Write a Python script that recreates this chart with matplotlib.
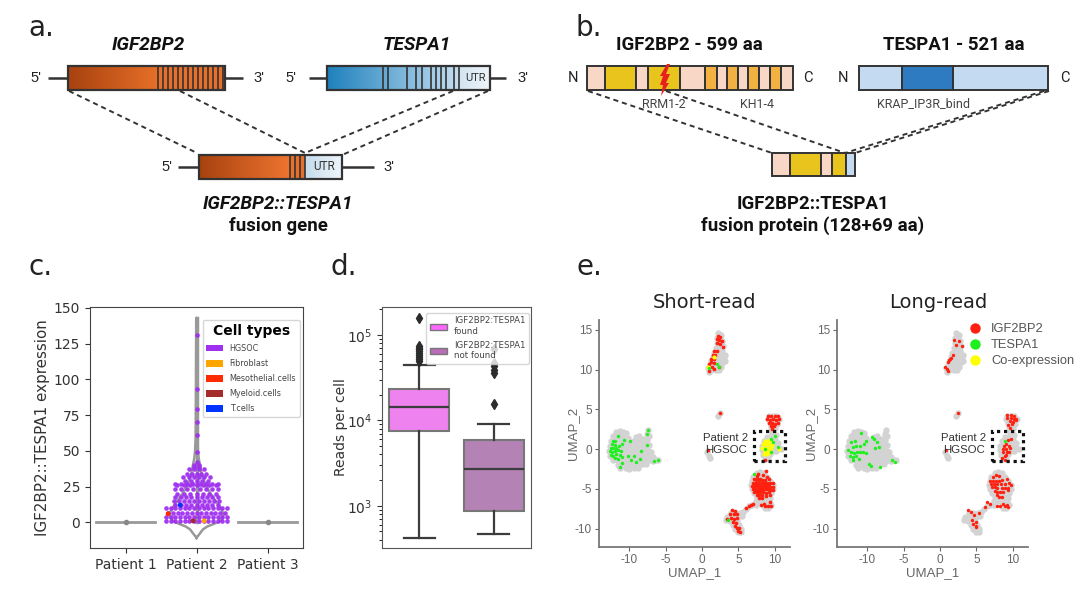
import numpy as np
import matplotlib
matplotlib.use("Agg")
import matplotlib.pyplot as plt
from matplotlib.colors import LinearSegmentedColormap
from matplotlib.lines import Line2D
from matplotlib.patches import Patch, Rectangle, Polygon

plt.rcParams["axes.unicode_minus"] = False
W, H = 1080, 592

# panel c: swarm rows (expression value, number of cells) for Patient 2
swarm_levels = [1, 3.7, 6.8, 10, 12, 15, 18, 20, 23, 26, 27, 29, 32, 34, 37, 38.5, 40, 42, 49, 61, 70, 79, 93, 131]
swarm_counts = [14, 14, 13, 14, 9, 10, 9, 7, 8, 7, 8, 5, 6, 5, 4, 2, 2, 1, 1, 1, 1, 1, 1, 1]
swarm_steps = [.066, .066, .066, .066, .075, .07, .075, .09, .085, .09, .085, .08, .075, .07, .07, .07, .07, .07, .07, .07, .07, .07, .07, .07]
# other cell types in the swarm: value, x offset from the Patient 2 centre
other_values = [1, 1, 6, 12]
other_offsets = [-.05, .11, -.40, -.23]
other_types = ["Myeloid.cells", "Fibroblast", "Mesothelial.cells", "T.cells"]

violin_y = [-11, -10, -9, -7, -5, -3, 0, 3, 6, 10, 15, 20, 25, 30, 35, 40, 45, 50, 60, 80, 100, 143]
violin_w = [0, .012, .03, .06, .09, .15, .3, .37, .38, .34, .27, .2, .14, .1, .07, .05, .03, .02, .012, .01, .008, .004]

patients = ["Patient 1", "Patient 2", "Patient 3"]
cell_types = ["HGSOC", "Fibroblast", "Mesothelial.cells", "Myeloid.cells", "T.cells"]
cell_colors = ["#A030F0", "#FFA500", "#FF2A00", "#A52A2A", "#0033FF"]

# panel d: box stats
box_found = dict(med=14200, q1=7440, q3=23400, whislo=420, whishi=45000,
                 fliers=[50000, 53000, 56000, 59000, 62000, 65000, 68000, 71000, 75000, 160000])
box_notfound = dict(med=2700, q1=870, q3=5900, whislo=473, whishi=9000,
                    fliers=[15500, 36000, 39000, 43000, 47000, 68000])

# panel e: UMAP embedding (same cells in both panels)
gray_left = [
    (-11.8, 2.2), (-11.3, 2.3), (-10.9, 2.2), (-10.5, 2.1), (-7.4, 2.4), (-7.6, 1.9), (-7.3, 1.7),
    (-12.2, 1.6), (-11.7, 1.7), (-11.2, 1.6), (-10.7, 1.6), (-10.2, 1.4), (-9.0, 1.5), (-8.6, 1.6), (-8.1, 1.3),
    (-12.5, 1.0), (-12.0, 1.1), (-11.5, 1.0), (-11.0, 1.0), (-10.5, .9), (-10.0, .9), (-9.5, 1.0), (-9.0, .9),
    (-8.5, 1.0), (-8.0, .8), (-7.5, 1.1), (-12.7, .4), (-12.2, .5), (-11.7, .4), (-11.2, .4), (-10.7, .3),
    (-10.2, .4), (-9.7, .3), (-9.2, .4), (-8.7, .3), (-8.2, .3), (-7.7, .4), (-7.3, .5), (-12.8, -.2),
    (-12.3, -.1), (-11.8, -.2), (-11.3, -.2), (-10.8, -.3), (-10.3, -.2), (-9.8, -.3), (-9.3, -.2), (-8.8, -.2),
    (-8.3, -.3), (-7.8, -.2), (-7.3, -.2), (-7.0, -.3), (-12.6, -.8), (-12.1, -.7), (-11.6, -.8), (-11.1, -.8),
    (-10.6, -.9), (-10.1, -.8), (-9.6, -.8), (-9.1, -.9), (-8.6, -.8), (-8.1, -.8), (-7.6, -.9), (-7.1, -.8),
    (-6.7, -1.0), (-12.2, -1.4), (-11.7, -1.3), (-11.2, -1.4), (-10.7, -1.4), (-10.2, -1.4), (-9.7, -1.5),
    (-9.2, -1.4), (-8.7, -1.4), (-8.2, -1.4), (-7.7, -1.5), (-7.2, -1.4), (-6.7, -1.5), (-6.3, -1.4), (-6.0, -1.4),
    (-11.6, -2.0), (-11.1, -1.9), (-10.6, -2.0), (-10.1, -2.0), (-9.6, -2.0), (-9.1, -2.0), (-8.6, -2.0),
    (-8.2, -1.9), (-7.7, -1.9), (-11.2, -2.4), (-10.5, -2.4), (-10.0, -2.5), (-9.3, -2.4), (-8.8, -2.4),
]
gray_top = [
    (2.2, 14.6), (2.6, 14.4), (2.1, 14.0), (2.5, 13.8), (2.8, 13.6), (2.0, 13.3), (2.5, 13.2), (2.9, 13.0),
    (1.9, 12.7), (2.4, 12.6), (2.8, 12.4), (1.7, 12.1), (2.2, 12.0), (2.7, 11.9), (3.1, 11.9), (1.5, 11.6),
    (2.0, 11.5), (2.5, 11.4), (3.0, 11.4), (3.2, 11.1), (1.3, 11.1), (1.8, 11.0), (2.3, 10.9), (2.8, 10.9),
    (1.1, 10.6), (1.6, 10.5), (2.1, 10.4), (2.6, 10.4), (.8, 10.2), (1.3, 10.0), (1.9, 9.9), (2.4, 9.9), (1.0, 9.7),
]
gray_small = [(2.5, 4.5), (2.2, 4.2), (.7, -.4), (.9, -.8), (1.1, -1.1)]
gray_mid = [
    (9.2, 4.2), (9.7, 4.2), (10.2, 4.2), (9.1, 3.8), (9.6, 3.7), (10.1, 3.7), (10.6, 3.8), (9.3, 3.3), (9.8, 3.2),
    (10.3, 3.2), (9.5, 2.8), (10.0, 2.7), (9.6, 2.3), (9.6, 1.9), (10.2, 1.8), (9.0, 1.5), (9.5, 1.4), (10.1, 1.3),
    (8.5, 1.0), (9.0, .9), (9.5, .9), (10.0, .8), (10.5, .8), (8.3, .4), (8.8, .4), (9.3, .3), (9.8, .3), (10.3, .3),
    (8.2, -.1), (8.7, -.2), (9.2, -.2), (9.7, -.2), (10.2, -.2), (10.8, 0), (8.4, -.7), (8.9, -.7), (9.4, -.6),
    (8.6, -1.2), (9.1, -1.1),
]
gray_low = [
    (7.5, -3.0), (8.0, -2.9), (8.5, -3.0), (7.0, -3.5), (7.5, -3.5), (8.0, -3.4), (8.5, -3.5), (9.0, -3.5),
    (6.9, -4.0), (7.4, -4.0), (7.9, -4.0), (8.4, -3.9), (8.9, -4.0), (9.4, -4.0), (6.8, -4.5), (7.3, -4.5), (7.8, -4.5),
    (8.3, -4.5), (8.8, -4.5), (9.3, -4.5), (9.8, -4.5), (6.9, -5.0), (7.4, -5.0), (7.9, -5.0), (8.4, -5.0), (8.9, -5.0),
    (9.4, -5.0), (9.8, -5.0), (7.1, -5.5), (7.6, -5.5), (8.1, -5.5), (8.6, -5.5), (9.1, -5.5), (9.5, -5.5), (7.5, -6.0),
    (8.0, -6.0), (8.5, -6.0), (9.0, -6.0), (9.3, -6.1), (7.4, -6.5), (8.0, -6.5), (8.6, -6.6), (9.2, -6.5), (6.9, -7.0),
    (7.4, -7.0), (8.5, -7.1), (9.0, -7.0), (9.5, -7.0), (8.6, -7.4), (9.1, -7.4), (6.5, -7.2), (6.0, -7.5), (5.6, -7.9),
    (5.2, -8.0), (5.5, -8.4), (5.0, -8.5), (4.0, -8.0), (4.5, -8.0), (3.5, -8.5), (4.0, -8.5), (4.5, -8.5), (3.3, -8.9),
    (3.8, -9.0), (4.3, -9.0), (4.8, -9.0), (4.2, -9.5), (4.7, -9.5), (5.1, -9.5), (4.6, -10.0), (5.0, -10.0), (5.4, -10.0),
    (4.9, -10.4), (5.3, -10.4),
]
short_red = [
    (2.2, 14.3), (2.5, 14.1), (2.0, 13.8), (2.3, 13.7), (2.7, 13.6), (2.0, 13.3), (2.5, 13.2), (2.9, 12.9),
    (1.7, 12.4), (2.0, 12.3), (1.5, 11.9), (1.8, 11.8), (1.3, 11.4), (1.6, 11.4), (1.2, 11.0), (1.7, 10.9), (.9, 10.7),
    (1.4, 10.3), (2.4, 10.3), (1.0, 9.8), (1.7, 10.1), (2.5, 4.5), (.8, -.1),
    (9.1, 4.2), (9.5, 4.2), (10.0, 4.2), (10.4, 4.2), (9.0, 3.8), (9.4, 3.7), (9.8, 3.8), (10.2, 3.7), (10.6, 3.8),
    (9.2, 3.3), (9.6, 3.3), (10.0, 3.2), (10.4, 3.3), (9.5, 2.9), (9.9, 2.9), (9.6, 2.5), (8.6, -1.3),
    (7.5, -3.4), (8.4, -3.3), (8.9, -3.5), (7.2, -3.8), (7.6, -3.8), (8.0, -3.7), (8.6, -3.9), (9.2, -3.8),
    (7.0, -4.2), (7.4, -4.2), (7.8, -4.2), (8.2, -4.2), (8.6, -4.3), (9.0, -4.2), (9.4, -4.2), (9.7, -4.3),
    (6.9, -4.6), (7.3, -4.6), (7.7, -4.6), (8.1, -4.6), (8.5, -4.6), (8.9, -4.6), (9.3, -4.7), (9.7, -4.7),
    (7.0, -5.0), (7.4, -5.0), (7.8, -5.0), (8.2, -5.0), (8.6, -5.0), (9.0, -5.0), (9.4, -5.1), (9.7, -5.1),
    (7.2, -5.4), (7.6, -5.4), (8.0, -5.4), (8.4, -5.4), (8.8, -5.5), (9.2, -5.4), (7.5, -5.8), (7.9, -5.8), (8.3, -5.8),
    (8.8, -5.9), (9.3, -5.8), (7.9, -6.2), (8.3, -6.2), (8.8, -2.7), (7.7, -3.1), (8.1, -7.0), (8.7, -7.1), (9.1, -7.1),
    (9.5, -7.2), (8.5, -6.9), (9.4, -6.7), (7.0, -6.9), (6.4, -7.2), (6.0, -7.4), (6.7, -7.0),
    (4.1, -7.6), (4.5, -7.8), (3.9, -8.2), (4.4, -8.2), (4.8, -8.1), (3.5, -8.8), (4.0, -8.7), (4.4, -8.8), (4.8, -8.7),
    (4.2, -9.2), (4.7, -9.3), (4.5, -9.7), (4.8, -9.9), (5.0, -10.3), (5.2, -10.4), (5.1, -9.9),
    (7.2, -4.4), (7.6, -4.4), (8.0, -4.4), (8.4, -4.4), (8.8, -4.4), (9.2, -4.4), (7.2, -4.8), (7.6, -4.8), (8.0, -4.8),
    (8.4, -4.8), (8.8, -4.8), (9.2, -4.9), (7.4, -3.9), (7.8, -3.9), (8.2, -3.9), (7.4, -5.2), (7.8, -5.2), (8.2, -5.2),
]
short_green = [
    (-12.2, 1.0), (-11.9, 1.0), (-12.3, .6), (-12.0, .5), (-12.5, .2), (-12.2, .1), (-11.8, .2), (-11.4, .4), (-11.0, .6),
    (-12.6, -.2), (-12.3, -.3), (-11.9, -.2), (-11.5, -.1), (-11.1, -.2), (-12.5, -.7), (-12.2, -.8), (-11.8, -.6), (-11.3, -.7),
    (-12.0, -1.1), (-11.6, -1.2), (-11.0, -1.0), (-11.2, -2.2), (-11.0, -1.7), (-10.2, -.9), (-9.8, -1.3), (-9.4, -.8), (-9.0, -1.6),
    (-8.5, -1.2), (-7.4, 2.4), (-7.5, 1.9), (-10.7, 1.1), (-9.9, 1.0), (-7.6, .5), (-8.4, -.2), (-6.6, -1.5), (-6.1, -1.4),
    (-11.5, 1.7), (2.1, 10.7), (2.4, 10.3), (1.0, 10.2), (7.2, -3.1), (3.6, -8.9), (10.0, 1.6), (9.5, 1.3), (9.8, .9),
    (10.4, .3), (8.6, .0), (9.5, -.3),
]
short_yellow = [
    (8.6, 1.0), (9.0, 1.0), (9.3, 1.1), (8.4, .6), (8.8, .6), (9.2, .6), (9.6, .5), (8.3, .2), (8.7, .2), (9.1, .2),
    (9.5, .1), (8.6, -.2), (9.0, -.2), (9.4, -.3), (8.5, -.6), (8.9, -.6), (10.6, .0), (.8, 10.4), (1.6, 11.6),
]
long_red = [
    (1.9, 13.7), (2.6, 13.6), (2.2, 13.1), (3.0, 13.0), (1.8, 11.9), (1.5, 11.5), (1.2, 11.2), (1.4, 11.3), (1.1, 11.0),
    (.7, 10.3), (1.0, 10.1), (1.1, 9.8), (2.5, 4.5), (.8, -.1),
    (9.2, 4.3), (9.7, 4.3), (10.2, 4.2), (9.2, 3.9), (9.8, 3.9), (10.2, 3.8), (10.5, 3.8), (9.6, 3.5), (10.1, 3.4), (10.4, 3.7),
    (9.4, 3.1), (9.9, 3.2), (9.6, 2.7), (9.8, 1.3), (9.4, 1.1), (9.1, .7), (9.5, .4), (8.8, .4), (8.6, 0), (9.1, 0), (9.6, .1),
    (8.7, -.4), (9.2, -.4), (9.5, -.3), (8.9, -.8), (9.1, -.7), (8.5, -1.1), (9.0, -1.3),
    (7.3, -3.5), (7.7, -3.3), (8.1, -3.4), (8.5, -3.9), (9.2, -3.7), (6.9, -4.0), (7.3, -4.0), (7.7, -4.0), (8.1, -4.0), (9.5, -4.2),
    (7.0, -4.4), (7.4, -4.4), (7.8, -4.4), (8.4, -4.4), (8.9, -4.4), (9.7, -4.5), (7.1, -4.8), (7.5, -4.8), (7.9, -4.9), (8.5, -4.9),
    (9.0, -4.9), (9.4, -4.9), (7.5, -5.3), (7.8, -5.4), (8.3, -5.4), (8.7, -5.4), (7.8, -5.8), (8.1, -6.0), (8.5, -6.0), (9.4, -5.1),
    (6.9, -6.9), (7.8, -7.1), (8.2, -7.2), (8.9, -7.2), (9.2, -7.0), (9.3, -7.3), (8.7, -6.9), (6.5, -6.7), (6.2, -7.3),
    (3.9, -7.6), (4.2, -7.9), (4.7, -8.3), (5.3, -8.0), (4.4, -8.9), (4.6, -9.4), (5.0, -9.1), (4.9, -9.6), (5.0, -9.8),
]
long_green = [
    (-10.9, 2.0), (-11.7, 1.0), (-12.2, .9), (-9.4, 1.5), (-9.1, 1.3), (-10.1, 1.0), (-8.6, .9), (-12.0, .3), (-11.6, .4), (-11.0, .4),
    (-10.4, .6), (-8.9, .2), (-8.4, .3), (-12.6, -.1), (-12.2, -.4), (-11.8, -.5), (-11.4, -.3), (-11.0, -.4), (-10.6, -.3), (-10.2, -.5),
    (-12.3, -.8), (-11.9, -1.0), (-11.6, -.9), (-11.1, -1.2), (-12.0, -1.3), (-9.8, -1.8), (-9.5, -2.1), (-8.3, -2.2), (-6.6, -1.4),
    (-6.2, -1.6), (8.9, 1.0),
]

dot_colors = ["#FF2010", "#1EF01E", "#FFFF00"]
dot_labels = ["IGF2BP2", "TESPA1", "Co-expression"]

fig = plt.figure(figsize=(W / 100, H / 100), dpi=100)


def px_axes(x0, y0, x1, y1):
    return fig.add_axes([x0 / W, 1 - y1 / H, (x1 - x0) / W, (y1 - y0) / H])


# overlay in pixels for the two schematics
ov = fig.add_axes([0, 0, 1, 1])
ov.axis("off")
EDGE = "#333333"
ROB = "Roboto"


def gradient(x0, x1, y0, y1, c0, c1):
    cm = LinearSegmentedColormap.from_list("g", [c0, c1])
    ov.imshow(np.linspace(0, 1, 64).reshape(1, -1), extent=[x0, x1, y1, y0], cmap=cm, aspect="auto", zorder=1)


def gene(x0, x1, y0, y1, lx0, lx1, cuts, fills):
    ov.plot([lx0, lx1], [(y0 + y1) / 2] * 2, color=EDGE, lw=1.8, zorder=0.5, solid_capstyle="butt")
    for (a, b, c0, c1) in fills:
        gradient(a, b, y0, y1, c0, c1)
    ov.vlines(cuts, y0, y1, color=EDGE, lw=1.2, zorder=2)
    ov.add_patch(Rectangle((x0, y0), x1 - x0, y1 - y0, fc="none", ec=EDGE, lw=1.6, zorder=3))


def ends(lx, rx, y, left="5'", right="3'", size=10.5, fam="Liberation Sans"):
    ov.text(lx, y, left, ha="center", va="center", fontsize=size, color="#222222", family=fam)
    ov.text(rx, y, right, ha="center", va="center", fontsize=size, color="#222222", family=fam)


def dashes(x0, y0, x1, y1):
    ov.plot([x0, x1], [y0, y1], color=EDGE, lw=1.4, ls=(0, (2.6, 2.0)), zorder=2)


def protein(bounds, colors, y0, y1):
    for a, b, c in zip(bounds[:-1], bounds[1:], colors):
        ov.add_patch(Rectangle((a, y0), b - a, y1 - y0, fc=c, ec=EDGE, lw=1.4, zorder=2))


ORANGE0, ORANGE1, ORANGE2 = "#A8420F", "#E66F28", "#E8702A"
BIG = dict(ha="center", va="center", weight="bold", family=ROB, color="#111111")

# panel a
gene(68, 225, 66, 90, 48, 243, list(range(158, 225, 5)),
     [(68, 158, ORANGE0, ORANGE1), (158, 225, ORANGE2, ORANGE2)])
ends(36, 259, 78)
tespa_cuts = [383, 388, 407, 416, 422, 431, 436, 441, 446, 454, 459]
gene(327, 490, 66, 90, 309, 506, tespa_cuts,
     [(327, 459, "#1F82BD", "#C3DDF0"), (459, 490, "#D2E4F1", "#EEF5FA")])
ends(291, 523, 78)
gene(199, 342, 155, 179, 178, 374, [290, 295, 300, 305],
     [(199, 290, ORANGE0, "#EE7430"), (290, 305, ORANGE2, ORANGE2), (305, 342, "#C5DCEC", "#EEF5FA")])
ends(167, 389, 167)
ov.text(475, 78, "UTR", ha="center", va="center", fontsize=8, color="#333333", family=ROB, zorder=4)
ov.text(324, 167, "UTR", ha="center", va="center", fontsize=8.5, color="#333333", family=ROB, zorder=4)
dashes(69, 91, 197, 153)
dashes(180, 91, 305, 153)
dashes(453, 91, 305, 153)
dashes(488, 91, 342, 155)
ov.text(148, 45, "IGF2BP2", fontsize=13.8, style="italic", **BIG)
ov.text(417, 45, "TESPA1", fontsize=13.8, style="italic", **BIG)
ov.text(278, 204, "IGF2BP2::TESPA1", fontsize=13.6, style="italic", **BIG)
ov.text(278, 226, "fusion gene", fontsize=13.4, **BIG)

# panel b
PINK, GOLD, AMBER, LIGHT, BLUE = "#F8D7C6", "#E8C41C", "#F2B141", "#C3DAF1", "#2F7BC1"
protein([587, 605, 636, 648, 680, 705, 717, 727, 738, 748, 759, 770, 781, 793],
        [PINK, GOLD, PINK, GOLD, PINK, AMBER, PINK, AMBER, PINK, AMBER, PINK, AMBER, PINK], 66, 90)
protein([859, 902, 953, 1048], [LIGHT, BLUE, LIGHT], 66, 90)
protein([772, 790, 821, 832, 846, 855], [PINK, GOLD, PINK, GOLD, LIGHT], 153, 176)
ends(573, 808, 78, "N", "C", 10.5, ROB)
ends(843, 1065, 78, "N", "C", 10.5, ROB)
ov.add_patch(Polygon([(667, 64), (670, 64), (666, 74), (670, 74), (666, 83), (669, 83), (661, 96),
                      (663, 85), (660, 85), (663, 76), (660, 76)], fc="#E8201C", ec="none", zorder=4))
ov.text(664, 104, "RRM1-2", ha="center", va="center", fontsize=9, color="#444444", family=ROB, zorder=5)
ov.text(757, 104, "KH1-4", ha="center", va="center", fontsize=9, color="#444444", family=ROB)
ov.text(924, 104, "KRAP_IP3R_bind", ha="center", va="center", fontsize=9, color="#444444", family=ROB)
dashes(588, 91, 772, 153)
dashes(666, 91, 845, 153)
dashes(1044, 91, 845, 153)
dashes(1049, 91, 855, 153)
ov.text(689, 45, "IGF2BP2 - 599 aa", fontsize=13.4, **BIG)
ov.text(954, 45, "TESPA1 - 521 aa", fontsize=13.4, **BIG)
ov.text(813, 204, "IGF2BP2::TESPA1", fontsize=13.4, **BIG)
ov.text(813, 226, "fusion protein (128+69 aa)", fontsize=13.4, **BIG)

# panel letters
for s, x, y in [("a.", 28, 28), ("b.", 575, 28), ("c.", 29, 267), ("d.", 331, 267), ("e.", 576, 267)]:
    ov.text(x, y, s, ha="left", va="center", fontsize=20, color="#222222")
ov.set_xlim(0, W)
ov.set_ylim(H, 0)

# panel c
ax = px_axes(90, 307, 303, 548)
ax.plot([-.41, .41], [0, 0], color="#999999", lw=2)
ax.plot([1.59, 2.41], [0, 0], color="#999999", lw=2)
ax.plot([0, 2], [0, 0], "o", color="#888888", ms=3)
vy = np.array(violin_y)
vw = np.array(violin_w)
ax.plot(np.r_[1 - vw, (1 + vw)[::-1]], np.r_[vy, vy[::-1]], color="#999999", lw=1.8, zorder=2)
ax.plot([1, 1], [0, 143], color="#999999", lw=2.5, zorder=2)
for lev, n, step in zip(swarm_levels, swarm_counts, swarm_steps):
    xs = 1 + (np.arange(n) - (n - 1) / 2) * step
    ax.scatter(xs, [lev] * n, s=11, color=cell_colors[0], lw=0, zorder=3, alpha=.95)
ax.scatter(1 + np.array(other_offsets), other_values, s=12, lw=0, zorder=4,
           color=[cell_colors[cell_types.index(t)] for t in other_types])
ax.set_xlim(-.5, 2.5)
ax.set_ylim(-18, 150.7)
ax.set_xticks(range(3), patients)
ax.set_yticks(range(0, 151, 25))
ax.set_ylabel("IGF2BP2::TESPA1 expression", fontsize=10.9, color="#333333", labelpad=3)
ax.tick_params(labelsize=10, colors="#333333")
for s in ax.spines.values():
    s.set_color("#444444")
handles = [Patch(fc=c, ec="none", label=t) for c, t in zip(cell_colors, cell_types)]
ax.legend(handles=handles, title="Cell types", loc="upper right", bbox_to_anchor=(.985, .945),
          fontsize=5.8, title_fontproperties={"weight": "bold", "size": 10}, borderaxespad=0,
          labelspacing=.75, handlelength=2.1, handleheight=.9, labelcolor="#444444",
          borderpad=.45, handletextpad=.8)

# panel d
ax = px_axes(382, 307, 531, 548)
bp = ax.bxp([box_found, box_notfound], positions=[0, 1], widths=.8, patch_artist=True, showfliers=True,
            whiskerprops=dict(color="#3c3c3c", lw=1.6), capprops=dict(color="#3c3c3c", lw=1.6),
            medianprops=dict(color="#3c3c3c", lw=1.6), boxprops=dict(edgecolor="#777777", lw=1.5),
            flierprops=dict(marker="d", mfc="#2c2c2c", mec="#2c2c2c", ms=5))
bp["boxes"][0].set_facecolor("#EE82EE")
bp["boxes"][1].set_facecolor("#B482B4")
for cap in bp["caps"]:
    cap.set_xdata(np.mean(cap.get_xdata()) + np.array([-.21, .21]))
ax.set_yscale("log")
ax.set_xlim(-.5, 1.5)
ax.set_ylim(320, 213000)
ax.set_xticks([])
ax.set_ylabel("Reads per cell", fontsize=10, color="#333333", labelpad=-1)
ax.tick_params(labelsize=10, colors="#333333")
for s in ax.spines.values():
    s.set_color("#555555")
handles = [Patch(fc="#FF66FF", ec="#777777", label="IGF2BP2:TESPA1\nfound"),
           Patch(fc="#B96DB9", ec="#777777", label="IGF2BP2:TESPA1\nnot found")]
ax.legend(handles=handles, loc="upper right", bbox_to_anchor=(.985, .975), fontsize=6.2, borderaxespad=0,
          labelcolor="#444444", handlelength=2.0, labelspacing=.6, framealpha=.8)


# panel e
def umap(x0, x1, title, title_x, reds, greens, yellows, label_x, red_size):
    ax = px_axes(x0, 320, x1, 547)
    gray = gray_left + gray_top + gray_small + gray_mid + gray_low
    ax.scatter(*zip(*gray), s=21, color="#D3D3D3", lw=0, zorder=1)
    ax.scatter(*zip(*reds), s=red_size, color=dot_colors[0], lw=0, zorder=2)
    if yellows:
        ax.scatter(*zip(*yellows), s=9, color=dot_colors[2], lw=0, zorder=3)
    ax.scatter(*zip(*greens), s=6, color=dot_colors[1], lw=0, zorder=4)
    ax.add_patch(Rectangle((7.1, -1.5), 4.35, 3.8, fc="none", ec="#111111", lw=2.3, ls=(0, (1, 1.2)), zorder=5))
    ax.text(label_x, .65, "Patient 2\nHGSOC", ha="center", va="center", fontsize=8.2, color="#333333",
            family="Liberation Sans", linespacing=1.3, zorder=6)
    ax.set_xlim(-14.15, 12.1)
    ax.set_ylim(-12.3, 16.25)
    ax.set_xticks([-10, -5, 0, 5, 10])
    ax.set_yticks([-10, -5, 0, 5, 10, 15])
    ax.tick_params(labelsize=8.5, colors="#666666", length=3, labelfontfamily="Liberation Sans", pad=2)
    ax.set_xlabel("UMAP_1", fontsize=9.5, color="#666666", family="Liberation Sans", labelpad=1)
    ax.set_ylabel("UMAP_2", fontsize=9.5, color="#666666", family="Liberation Sans", labelpad=-3)
    ax.spines[["top", "right"]].set_visible(False)
    ax.spines[["left", "bottom"]].set_color("#777777")
    ax.spines[["left", "bottom"]].set_linewidth(1.3)
    ax.patch.set_alpha(0)
    fig.text(title_x / W, 1 - 302 / H, title, ha="center", va="center", fontsize=14, color="#222222")
    return ax


umap(599, 790, "Short-read", 705, short_red, short_green, short_yellow, 3.3, 7)
ax = umap(837, 1028, "Long-read", 938, long_red, long_green, [], 3.3, 6)
handles = [Line2D([], [], ls="", marker="o", ms=7.5, mfc=c, mec="none", label=t) for c, t in zip(dot_colors, dot_labels)]
ax.legend(handles=handles, loc="upper left", bbox_to_anchor=(.675, .985), frameon=False, borderaxespad=0,
          labelcolor="#555555", prop={"family": "Liberation Sans", "size": 9.3}, labelspacing=.3,
          handlelength=1.4, handletextpad=.55, borderpad=0)

fig.savefig("out.png", dpi=100)
